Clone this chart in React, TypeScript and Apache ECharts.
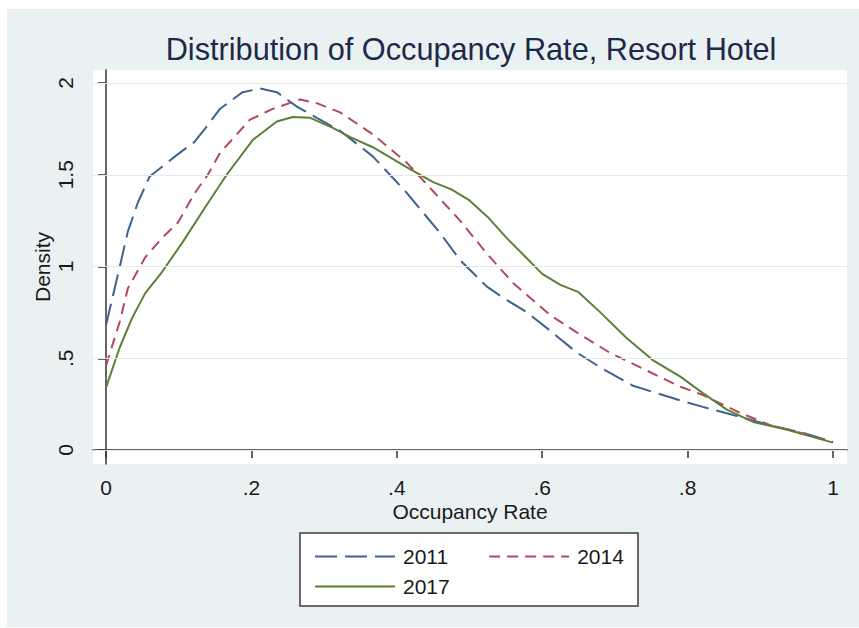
import React, { useEffect, useRef } from "react";
import * as echarts from "echarts";

const xTicks = [0, 0.2, 0.4, 0.6, 0.8, 1];
const yTicks = [0, 0.5, 1, 1.5, 2];

const x2011 = [0, 0.019, 0.03, 0.044, 0.06, 0.095, 0.122, 0.136, 0.157, 0.188, 0.212, 0.235, 0.263, 0.29, 0.322, 0.367, 0.414, 0.46, 0.487, 0.524, 0.546, 0.579, 0.611, 0.648, 0.68, 0.725, 0.79, 0.821, 0.868, 0.913, 0.959, 1.0];
const y2011 = [0.68, 1.0, 1.19, 1.35, 1.49, 1.6, 1.68, 1.75, 1.86, 1.95, 1.97, 1.95, 1.87, 1.81, 1.74, 1.6, 1.4, 1.18, 1.035, 0.89, 0.83, 0.75, 0.65, 0.53, 0.45, 0.35, 0.27, 0.235, 0.185, 0.136, 0.093, 0.044];

const x2014 = [0, 0.019, 0.03, 0.054, 0.077, 0.099, 0.122, 0.14, 0.157, 0.198, 0.23, 0.267, 0.29, 0.322, 0.367, 0.414, 0.45, 0.487, 0.524, 0.56, 0.579, 0.611, 0.648, 0.693, 0.748, 0.79, 0.821, 0.868, 0.913, 0.959, 1.0];
const y2014 = [0.46, 0.7, 0.88, 1.05, 1.155, 1.24, 1.4, 1.5, 1.62, 1.8, 1.86, 1.91, 1.89, 1.84, 1.72, 1.565, 1.41, 1.25, 1.07, 0.91, 0.845, 0.735, 0.64, 0.53, 0.425, 0.345, 0.3, 0.21, 0.136, 0.09, 0.044];

const x2017 = [0, 0.019, 0.036, 0.054, 0.077, 0.105, 0.136, 0.166, 0.202, 0.235, 0.257, 0.281, 0.312, 0.336, 0.367, 0.414, 0.45, 0.475, 0.5, 0.525, 0.55, 0.575, 0.6, 0.625, 0.65, 0.68, 0.716, 0.752, 0.79, 0.821, 0.854, 0.89, 0.937, 1.0];
const y2017 = [0.34, 0.56, 0.72, 0.855, 0.97, 1.13, 1.32, 1.5, 1.69, 1.79, 1.815, 1.81, 1.755, 1.705, 1.65, 1.54, 1.46, 1.42, 1.36, 1.27, 1.16, 1.06, 0.96, 0.9, 0.86, 0.75, 0.61, 0.49, 0.4, 0.31, 0.22, 0.153, 0.11, 0.04];

const seriesNames = ["2011", "2014", "2017"];
const colors = ["#3d628f", "#b24a5c", "#5c8035"];

const FONT = "'Liberation Sans', Arial, sans-serif";

const fmt = (v: number) => {
  const s = String(Math.round(v * 10) / 10);
  return s.startsWith("0.") ? s.slice(1) : s;
};

const pairs = (xs: number[], ys: number[]) => xs.map((x, i) => [x, ys[i]]);

export default function App() {
  const ref = useRef<HTMLDivElement>(null);
  useEffect(() => {
    document.body.style.margin = "0";
    const chart = echarts.init(ref.current!, undefined, { renderer: "svg" });
    const lineSeries = (i: number, data: number[][], dash: any) => ({
      name: seriesNames[i],
      type: "line",
      data,
      symbol: "none",
      smooth: false,
      z: 3,
      lineStyle: { color: colors[i], width: 2, type: dash },
      itemStyle: { color: colors[i] },
    });
    const legendCommon = {
      left: 309,
      orient: "horizontal",
      itemWidth: 80,
      itemHeight: 20,
      itemStyle: { opacity: 0 },
      textStyle: { fontFamily: FONT, fontSize: 21, color: "#1a1a1a", padding: [0, 0, 0, 3] },
      selectedMode: false,
    };
    chart.setOption({
      animation: false,
      backgroundColor: "#ffffff",
      title: {
        text: "Distribution of Occupancy Rate, Resort Hotel",
        left: 466,
        top: 29,
        textAlign: "center",
        textStyle: { fontFamily: FONT, fontSize: 30.7, fontWeight: "normal", color: "#1c2a48" },
      },
      graphic: [
        { type: "rect", z: -10, shape: { x: 7, y: 9, width: 852, height: 618 }, style: { fill: "#eaf1f3" }, silent: true },
        { type: "rect", z: -9, shape: { x: 93, y: 70, width: 754, height: 394 }, style: { fill: "#ffffff" }, silent: true },
        { type: "rect", z: -8, shape: { x: 300, y: 533, width: 338, height: 73 }, style: { fill: "#ffffff", stroke: "#3c3c3c", lineWidth: 1.5 }, silent: true },
      ],
      grid: { left: 93, top: 70, width: 754, height: 394, containLabel: false },
      xAxis: {
        type: "value",
        min: (93 - 106) / 727,
        max: (847 - 106) / 727,
        name: "Occupancy Rate",
        nameLocation: "middle",
        nameGap: 37,
        nameMoveOverlap: false,
        nameTextStyle: { fontFamily: FONT, fontSize: 21, color: "#1a1a1a" },
        axisLine: { show: true, lineStyle: { color: "#333", width: 1.5 } },
        axisTick: { show: true, length: 8, customValues: xTicks, lineStyle: { color: "#333", width: 1.5 } },
        axisLabel: { customValues: xTicks, formatter: (v: number) => fmt(v), margin: 13, fontFamily: FONT, fontSize: 21, color: "#1a1a1a" },
        splitLine: { show: false },
      },
      yAxis: {
        type: "value",
        min: (450 - 464) / 183.5,
        max: (450 - 70) / 183.5,
        name: "Density",
        nameLocation: "middle",
        nameGap: 40,
        nameMoveOverlap: false,
        nameTextStyle: { fontFamily: FONT, fontSize: 21, color: "#1a1a1a" },
        axisLine: { show: true, lineStyle: { color: "#333", width: 1.5 } },
        axisTick: { show: true, length: 8, customValues: yTicks, lineStyle: { color: "#333", width: 1.5 } },
        axisLabel: { customValues: yTicks, formatter: (v: number) => fmt(v), rotate: 90, margin: 17, fontFamily: FONT, fontSize: 21, color: "#1a1a1a" },
        splitLine: { show: false },
      },
      legend: [
        { ...legendCommon, data: ["2011", "2014"], top: 541, itemGap: 40 },
        { ...legendCommon, data: ["2017"], top: 571 },
      ],
      series: [
        {
          type: "line",
          data: [],
          z: 1,
          silent: true,
          markLine: {
            silent: true,
            symbol: "none",
            label: { show: false },
            lineStyle: { color: "#e4eaec", width: 1.2, type: "solid" },
            data: yTicks.map((v) => ({ yAxis: v })),
          },
        },
        lineSeries(0, pairs(x2011, y2011), [22, 8]),
        lineSeries(1, pairs(x2014, y2014), [11, 7]),
        lineSeries(2, pairs(x2017, y2017), "solid"),
      ],
    });
    return () => chart.dispose();
  }, []);
  return <div ref={ref} style={{ width: 859, height: 628 }} />;
}
